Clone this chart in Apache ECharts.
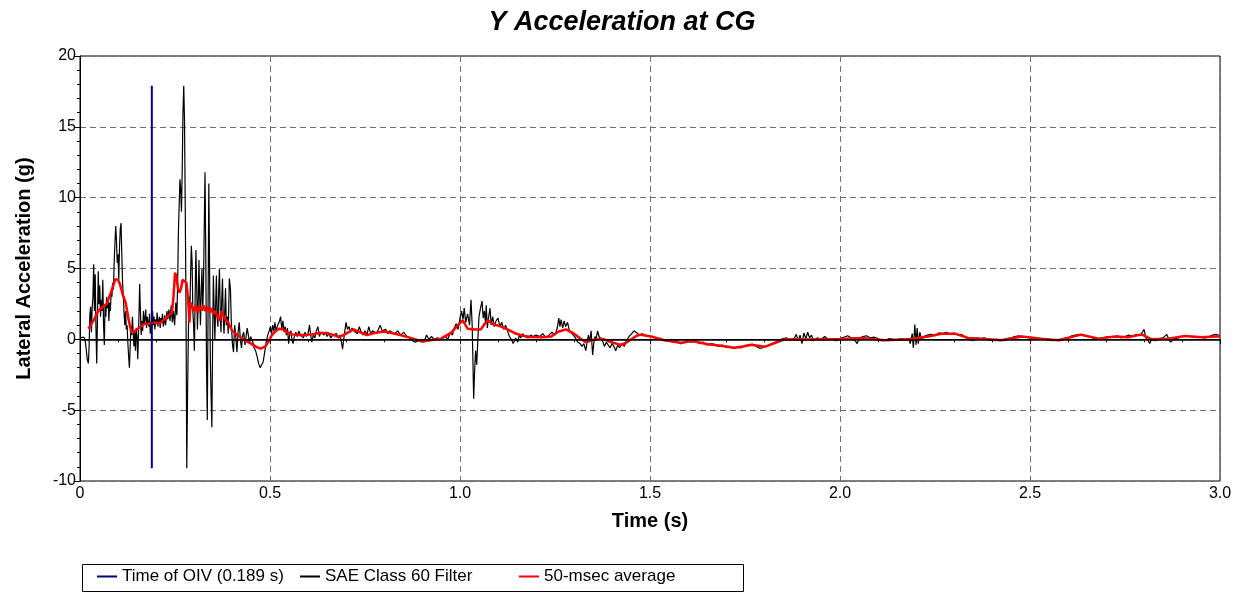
<!DOCTYPE html>
<html>
<head>
<meta charset="utf-8">
<title>Y Acceleration at CG</title>
<script src="https://cdn.jsdelivr.net/npm/echarts@6/dist/echarts.min.js"></script>
<style>
  html, body { margin: 0; padding: 0; background: #fff; }
  #chart { width: 1244px; height: 593px; }
</style>
</head>
<body>
<div id="chart"></div>
<script>
// Time of occupant impact velocity (s)
const oivTime = 0.189;

// SAE Class 60 filtered lateral acceleration, [time (s), g]
const filterImpact = [
  [0.000,0.1],[0.005,0.2],[0.010,0.15],[0.013,0.0],[0.016,-0.6],[0.019,-1.4],[0.022,-1.7],[0.024,-0.5],
  [0.026,1.8],[0.028,2.3],[0.030,0.5],[0.032,2.2],[0.034,3.0],[0.036,5.3],[0.038,2.0],[0.040,4.6],
  [0.042,0.8],[0.044,-1.7],[0.046,1.5],[0.048,4.8],[0.050,2.5],[0.052,3.8],[0.054,1.6],[0.056,2.8],
  [0.058,2.0],[0.060,4.2],[0.062,1.0],[0.064,-0.4],[0.066,2.5],[0.068,1.6],[0.070,3.0],[0.072,2.2],
  [0.074,2.8],[0.076,1.3],[0.078,2.6],[0.080,2.0],[0.082,3.4],[0.084,3.0],[0.086,4.0],[0.088,3.5],
  [0.090,5.5],[0.092,6.8],[0.094,8.0],[0.096,7.0],[0.098,5.4],[0.100,6.0],[0.102,4.2],[0.104,6.5],
  [0.106,7.8],[0.108,8.2],[0.110,6.0],[0.112,4.0],[0.114,3.0],[0.116,1.8],[0.118,1.0],[0.120,2.0],
  [0.122,0.7],[0.124,1.0],[0.126,-0.3],[0.128,-1.2],[0.130,-2.0],[0.132,-0.6],[0.134,0.9],[0.136,0.3],
  [0.138,1.6],[0.140,0.4],[0.142,-0.5],[0.144,0.5],[0.146,-0.8],[0.148,0.8],[0.150,0.2],[0.152,-1.4],
  [0.155,1.5],[0.157,3.9],[0.159,2.0],[0.161,0.3],[0.163,1.3],[0.165,0.6],[0.167,2.0],[0.169,1.0],
  [0.171,1.5],[0.173,2.1],[0.175,0.8],[0.177,1.6],[0.179,1.2],[0.181,0.9],[0.183,1.8],[0.185,0.4],
  [0.187,1.1],[0.189,0.8],[0.191,2.0],[0.193,1.0],[0.195,1.6],[0.197,0.7],[0.199,1.4],[0.201,1.1],
  [0.203,1.9],[0.205,0.9],[0.207,1.3],[0.209,1.6],[0.211,0.8],[0.213,1.5],[0.215,1.2],[0.217,1.8],
  [0.219,0.9],[0.221,1.2],[0.223,1.7],[0.225,1.0],[0.227,1.5],[0.229,2.0],[0.231,1.4],[0.234,2.1],
  [0.237,1.3],[0.240,2.4],[0.243,1.2],[0.246,2.0],[0.249,1.0],[0.252,2.6],[0.255,1.7],[0.257,4.0],
  [0.259,7.6],[0.261,9.5],[0.263,11.3],[0.265,10.6],[0.267,9.0],[0.269,12.0],[0.271,16.0],[0.273,17.9],
  [0.275,15.5],[0.277,9.2],[0.279,2.0],[0.281,-9.1],[0.283,-4.0],[0.285,0.0],[0.287,3.0],[0.289,2.0],
  [0.291,4.5],[0.293,6.6],[0.295,5.5],[0.297,2.0],[0.299,1.0],[0.301,-0.8],[0.303,3.0],[0.305,6.3],
  [0.307,4.0],[0.309,0.7],[0.311,2.5],[0.313,5.6],[0.315,3.0],[0.317,1.0],[0.319,3.5],[0.321,5.0],
  [0.323,2.0],[0.325,4.0],[0.327,8.0],[0.329,11.8],[0.331,6.0],[0.333,-2.0],[0.335,-5.7],[0.337,2.0],
  [0.339,11.0],[0.341,5.0],[0.343,-1.5],[0.345,-4.0],[0.347,-6.2],[0.349,0.0],[0.351,4.5],[0.353,2.0],
  [0.355,0.0],[0.357,2.5],[0.359,4.5],[0.361,1.5],[0.363,0.9],[0.365,3.5],[0.367,5.0],[0.369,2.0],
  [0.371,0.5],[0.373,2.8],[0.375,4.3],[0.377,1.5],[0.379,0.4],[0.381,2.0],[0.383,3.6],[0.385,1.0],
  [0.388,1.6],[0.390,0.4],[0.393,4.3],[0.396,3.5],[0.398,1.4],[0.401,-0.3],[0.404,-0.9],[0.407,1.0],
  [0.410,0.2],[0.413,-0.9],[0.416,0.5],[0.419,1.2],[0.422,0.0],[0.425,-0.6],[0.428,0.3],[0.431,0.5],
  [0.434,-0.4],[0.437,0.2],[0.440,0.8],[0.443,0.3],[0.446,-0.3],[0.449,0.2],[0.452,0.1],[0.455,-0.2],
  [0.458,-0.6],[0.462,-0.8],[0.466,-1.2],[0.470,-1.7],[0.474,-2.0],[0.478,-2.1],[0.482,-1.6],[0.486,-0.9],
  [0.490,-0.2],[0.494,0.3],[0.498,0.6]
];

const filterMid = [
  [0.501,0.9],[0.504,0.4],[0.507,1.0],[0.510,0.6],[0.513,1.2],[0.516,0.5],[0.519,0.9],[0.522,0.8],
  [0.525,1.3],[0.528,1.6],[0.531,0.7],[0.534,1.3],[0.537,0.5],[0.540,0.9],[0.543,0.3],[0.546,0.8],
  [0.549,-0.3],[0.552,0.4],[0.555,0.6],[0.558,-0.1],[0.561,-0.3],[0.564,0.2],[0.568,0.5],[0.572,0.2],
  [0.576,0.6],[0.580,0.3],[0.584,0.4],[0.588,0.1],[0.592,0.5],[0.596,0.2],[0.600,0.4],[0.604,1.0],
  [0.607,0.3],[0.610,-0.2],[0.614,0.3],[0.618,0.1],[0.622,0.6],[0.626,0.9],[0.630,0.2],[0.634,0.5],
  [0.638,0.6],[0.642,0.3],[0.646,0.5],[0.650,0.2],[0.655,0.4],[0.660,0.1],[0.665,0.3],[0.670,0.2],
  [0.675,0.4],[0.680,0.1],[0.684,0.3],[0.688,-0.2],[0.691,-0.7],[0.694,0.0],[0.697,0.6],[0.700,1.2],
  [0.704,0.7],[0.708,0.9],[0.712,0.5],[0.716,0.8],[0.720,0.6],[0.725,0.7],[0.730,0.4],[0.735,0.9],
  [0.740,0.5],[0.745,0.3],[0.750,0.6],[0.755,0.3],[0.760,0.9],[0.765,0.4],[0.770,0.6],[0.775,0.5],
  [0.780,0.4],[0.785,0.7],[0.790,1.0],[0.795,0.6],[0.800,0.5],[0.805,0.7],[0.810,0.4],[0.815,0.6],
  [0.820,0.5],[0.828,0.4],[0.836,0.6],[0.844,0.3],[0.852,0.5],[0.860,0.2],[0.868,0.1],[0.875,-0.1],
  [0.882,-0.2],[0.890,-0.1],[0.898,0.0],[0.905,-0.2],[0.912,0.3],[0.918,0.0],[0.925,0.2],[0.932,0.0],
  [0.940,0.1],[0.948,0.0],[0.955,0.1],[0.962,0.2],[0.968,0.0],[0.975,0.5],[0.980,0.3],[0.985,0.8],
  [0.990,1.1],[0.995,0.7],[1.000,1.5],[1.004,2.0],[1.008,1.4],[1.011,2.2],[1.015,1.2],[1.020,1.8],
  [1.025,1.0],[1.029,2.8],[1.032,1.0],[1.034,-1.5],[1.036,-4.2],[1.038,-2.5],[1.041,-0.8],[1.044,-1.8],
  [1.047,0.0],[1.050,1.6],[1.054,2.2],[1.058,2.7],[1.061,1.5],[1.064,2.0],[1.067,1.2],[1.069,2.4],
  [1.072,0.8],[1.075,1.5],[1.079,2.2],[1.082,1.0],[1.086,1.6],[1.090,0.9],[1.095,1.3],[1.100,1.5],
  [1.105,0.9],[1.110,1.2],[1.115,0.7],[1.120,1.0],[1.125,0.6],[1.130,0.2],[1.135,0.0],[1.140,-0.3],
  [1.143,-0.4],[1.147,0.1],[1.152,-0.2],[1.156,0.3],[1.160,0.1],[1.165,0.4],[1.170,0.2],[1.175,0.3],
  [1.180,0.1],[1.186,0.3],[1.192,0.2],[1.200,0.3],[1.210,0.2],[1.218,0.4],[1.226,0.1],[1.234,0.3],
  [1.242,0.5],[1.250,0.3],[1.256,0.8],[1.260,1.5],[1.263,0.9],[1.266,1.4],[1.270,0.8],[1.274,1.3],
  [1.278,0.9],[1.283,1.2],[1.288,0.6],[1.293,0.5],[1.298,0.3],[1.304,0.1],[1.310,-0.2],[1.316,-0.3],
  [1.321,-0.5],[1.326,-0.3],[1.331,-0.8],[1.335,-0.1],[1.338,0.3],[1.341,-0.2],[1.345,0.6],[1.349,-1.1],
  [1.352,-0.3],[1.355,0.2],[1.358,0.0],[1.362,0.6],[1.366,0.2],[1.370,0.3],[1.375,-0.1],[1.380,-0.5],
  [1.385,-0.2],[1.390,-0.4],[1.395,-0.6],[1.400,-0.3],[1.405,-0.5],[1.410,-0.8],[1.415,-0.4],[1.420,-0.6],
  [1.426,-0.3],[1.432,-0.5],[1.438,-0.1],[1.445,0.2],[1.452,0.4],[1.458,0.6],[1.463,0.6],[1.468,0.4],
  [1.474,0.3],[1.480,0.4],[1.487,0.3],[1.495,0.2]
];

const filterTail = [
  [1.502,0.2],[1.51,0.15],[1.52,0.05],[1.53,-0.05],[1.54,-0.1],[1.55,-0.05],[1.56,-0.2],[1.57,-0.1],
  [1.58,-0.3],[1.59,-0.2],[1.60,-0.1],[1.61,-0.2],[1.62,-0.1],[1.63,-0.3],[1.64,-0.2],[1.65,-0.4],
  [1.66,-0.3],[1.67,-0.35],[1.68,-0.5],[1.69,-0.4],[1.70,-0.55],[1.71,-0.5],[1.72,-0.65],[1.73,-0.55],
  [1.74,-0.6],[1.75,-0.45],[1.76,-0.4],[1.77,-0.35],[1.78,-0.5],[1.79,-0.65],[1.80,-0.55],[1.81,-0.45],
  [1.82,-0.3],[1.83,-0.2],[1.84,-0.05],[1.85,0.05],[1.86,0.1],[1.87,-0.05],[1.88,0.1],[1.885,0.35],
  [1.89,-0.1],[1.895,0.3],[1.90,-0.3],[1.905,0.45],[1.91,0.05],[1.915,0.5],[1.92,0.1],[1.925,0.3],
  [1.93,-0.1],[1.94,0.1],[1.95,0.0],[1.96,0.2],[1.97,-0.05],[1.98,0.05],[1.99,-0.1],[2.00,0.05],
  [2.01,0.15],[2.02,0.25],[2.03,0.1],[2.04,-0.1],[2.045,-0.3],[2.05,0.0],[2.06,0.2],[2.07,0.25],
  [2.08,0.1],[2.09,0.15],[2.10,0.05],[2.11,-0.1],[2.12,-0.05],[2.13,0.05],[2.14,0.0],[2.15,-0.05],
  [2.16,0.05],[2.17,0.0],[2.18,0.05],[2.185,-0.3],[2.19,0.4],[2.193,-0.6],[2.197,1.05],[2.20,-0.4],
  [2.203,0.8],[2.206,-0.3],[2.21,0.5],[2.215,0.0],[2.22,0.2],[2.23,0.3],[2.24,0.35],[2.25,0.25],
  [2.26,0.45],[2.27,0.4],[2.28,0.5],[2.29,0.35],[2.30,0.45],[2.31,0.3],[2.32,0.35],[2.33,0.15],
  [2.34,0.0],[2.35,-0.1],[2.36,0.1],[2.37,0.05],[2.38,0.1],[2.39,0.0],[2.40,-0.05],[2.41,0.0],
  [2.42,-0.1],[2.43,-0.05],[2.44,0.05],[2.45,0.1],[2.46,0.2],[2.47,0.25],[2.48,0.2],[2.49,0.15],
  [2.50,0.1],[2.51,0.05],[2.52,0.0],[2.53,0.05],[2.54,0.0],[2.55,-0.05],[2.56,-0.1],[2.57,-0.05],
  [2.58,-0.1],[2.59,0.0],[2.60,0.1],[2.61,0.25],[2.62,0.3],[2.63,0.35],[2.64,0.3],[2.65,0.2],
  [2.66,0.15],[2.67,0.05],[2.68,0.0],[2.69,0.1],[2.70,0.15],[2.71,0.2],[2.72,0.15],[2.73,0.25],
  [2.74,0.1],[2.75,0.2],[2.76,0.3],[2.77,0.2],[2.78,0.35],[2.79,0.25],[2.80,0.7],[2.805,0.1],
  [2.81,-0.05],[2.815,-0.3],[2.82,0.0],[2.83,-0.1],[2.84,0.05],[2.85,0.1],[2.86,0.35],[2.865,0.0],
  [2.87,-0.2],[2.88,0.05],[2.89,0.1],[2.90,0.2],[2.91,0.25],[2.92,0.2],[2.93,0.15],[2.94,0.2],
  [2.95,0.15],[2.96,0.1],[2.97,0.15],[2.98,0.3],[2.99,0.35],[3.00,0.25]
];

// 50-msec moving average, [time (s), g]
const movingAverage = [
  [0.022,0.75],[0.035,1.3],[0.048,2.0],[0.060,2.3],[0.070,2.5],[0.080,3.2],[0.093,4.25],[0.100,4.2],
  [0.105,3.9],[0.112,3.2],[0.120,2.6],[0.128,1.4],[0.135,0.5],[0.142,0.55],[0.150,0.7],[0.160,0.9],
  [0.170,1.1],[0.181,1.1],[0.195,1.2],[0.208,1.1],[0.222,1.4],[0.234,1.7],[0.242,1.9],[0.246,3.0],
  [0.250,4.7],[0.253,4.5],[0.258,3.6],[0.262,3.3],[0.266,3.6],[0.270,4.2],[0.275,4.1],[0.280,4.0],
  [0.284,3.0],[0.288,1.2],[0.291,2.6],[0.295,2.3],[0.300,2.0],[0.305,2.4],[0.310,1.9],[0.315,2.3],
  [0.320,2.1],[0.325,2.4],[0.330,2.0],[0.335,2.3],[0.340,1.9],[0.345,2.2],[0.350,1.8],[0.355,2.0],
  [0.360,1.7],[0.368,1.3],[0.372,2.0],[0.380,1.5],[0.390,1.2],[0.400,0.6],
  [0.410,0.4],[0.420,0.2],[0.435,-0.1],[0.450,-0.3],[0.465,-0.55],[0.475,-0.65],[0.488,-0.5],[0.497,-0.1],
  [0.505,0.3],[0.515,0.6],[0.525,0.75],[0.535,0.7],[0.545,0.5],[0.558,0.35],[0.571,0.3],[0.590,0.3],
  [0.610,0.35],[0.630,0.45],[0.650,0.45],[0.668,0.3],[0.682,0.15],[0.700,0.4],[0.720,0.7],[0.738,0.5],
  [0.755,0.3],[0.775,0.45],[0.800,0.55],[0.820,0.45],[0.843,0.3],[0.870,0.1],[0.900,-0.15],[0.925,-0.05],
  [0.950,0.05],[0.976,0.45],[0.995,1.0],[1.007,1.34],[1.020,0.75],[1.040,0.7],[1.055,0.7],[1.065,1.1],
  [1.073,1.34],[1.085,1.1],[1.108,0.9],[1.125,0.7],[1.143,0.45],[1.165,0.25],[1.187,0.16],[1.215,0.15],
  [1.240,0.2],[1.260,0.55],[1.279,0.7],[1.300,0.4],[1.315,0.1],[1.331,-0.2],[1.350,-0.05],[1.371,0.05],
  [1.385,-0.05],[1.397,-0.2],[1.424,-0.4],[1.440,-0.2],[1.450,0.0],[1.465,0.25],[1.476,0.33],[1.503,0.2],
  [1.538,-0.07],[1.560,-0.15],[1.582,-0.26],[1.600,-0.15],[1.617,-0.15],[1.652,-0.35],[1.687,-0.45],[1.722,-0.6],
  [1.745,-0.5],[1.766,-0.38],[1.785,-0.45],[1.801,-0.53],[1.825,-0.3],[1.854,0.0],[1.898,-0.02],[1.942,0.0],
  [2.003,0.03],[2.056,0.1],[2.118,-0.07],[2.179,0.0],[2.205,0.1],[2.232,0.2],[2.267,0.4],[2.302,0.4],
  [2.337,0.1],[2.381,0.03],[2.425,-0.07],[2.478,0.2],[2.530,0.05],[2.574,-0.07],[2.635,0.33],[2.680,0.05],
  [2.724,0.2],[2.758,0.15],[2.794,0.35],[2.820,0.0],[2.864,0.05],[2.908,0.23],[2.952,0.15],[2.987,0.2],
  [3.000,0.2]
];

// Axis ranges and tick spacing
const timeAxis = { min: 0, max: 3, interval: 0.5 };
const accelAxis = { min: -10, max: 20, interval: 5 };

const filtered = filterImpact.concat(filterMid, filterTail);
const peakHigh = Math.max(...filtered.map(p => p[1]));
const peakLow = Math.min(...filtered.map(p => p[1]));
const oivMarker = [[oivTime, peakLow], [oivTime, peakHigh]];

const font = 'Liberation Sans, Arial, Helvetica, sans-serif';
const chart = echarts.init(document.getElementById('chart'), null, { renderer: 'canvas' });

const legendBase = {
  top: 568, itemWidth: 20, itemHeight: 2, icon: 'rect', itemGap: 0,
  textStyle: { fontFamily: font, fontSize: 17, color: '#000' }, padding: 0
};

chart.setOption({
  animation: false,
  backgroundColor: '#fff',
  title: {
    text: 'Y Acceleration at CG',
    left: 'center', top: 4,
    textStyle: { fontFamily: font, fontSize: 27, fontWeight: 'bold', fontStyle: 'italic', color: '#000' }
  },
  grid: { left: 80, right: 24, top: 56, bottom: 112, show: true, borderColor: '#000', borderWidth: 1, backgroundColor: 'transparent' },
  legend: [
    Object.assign({}, legendBase, { left: 97, data: ['Time of OIV (0.189 s)'] }),
    Object.assign({}, legendBase, { left: 300, data: ['SAE Class 60 Filter'] }),
    Object.assign({}, legendBase, { left: 519, data: ['50-msec average'] })
  ],
  graphic: [{
    type: 'rect', left: 80, top: 562,
    shape: { width: 661, height: 27 },
    style: { fill: 'none', stroke: '#000', lineWidth: 1 }
  }],
  xAxis: {
    type: 'value', min: timeAxis.min, max: timeAxis.max, interval: timeAxis.interval,
    name: 'Time (s)', nameLocation: 'middle', nameGap: 30,
    nameTextStyle: { fontFamily: font, fontSize: 20, fontWeight: 'bold', color: '#000' },
    axisLine: { lineStyle: { color: '#000', width: 1 } },
    axisTick: { show: true, inside: false, length: 5, lineStyle: { color: '#000' } },
    minorTick: { show: true, splitNumber: 5, length: 3, lineStyle: { color: '#000' } },
    axisLabel: { fontFamily: font, fontSize: 16, color: '#000', margin: 5,
      formatter: v => (v === 0 ? '0' : v.toFixed(1)) },
    splitLine: { show: true, lineStyle: { color: '#707070', type: [6, 4], width: 1 } }
  },
  yAxis: {
    type: 'value', min: accelAxis.min, max: accelAxis.max, interval: accelAxis.interval,
    name: 'Lateral Acceleration (g)', nameLocation: 'middle', nameGap: 46, nameRotate: 90,
    nameTextStyle: { fontFamily: font, fontSize: 20, fontWeight: 'bold', color: '#000' },
    axisLine: { show: true, lineStyle: { color: '#000', width: 1 } },
    axisTick: { show: true, inside: false, length: 5, lineStyle: { color: '#000' } },
    minorTick: { show: true, splitNumber: 5, length: 3, lineStyle: { color: '#000' } },
    axisLabel: { fontFamily: font, fontSize: 16, color: '#000', margin: 4 },
    splitLine: { show: true, lineStyle: { color: '#707070', type: [6, 4], width: 1 } }
  },
  series: [
    {
      name: 'SAE Class 60 Filter', type: 'line', data: filtered,
      symbol: 'none', lineStyle: { color: '#000', width: 1.2 }, itemStyle: { color: '#000' },
      markLine: {
        silent: true, symbol: 'none', label: { show: false },
        lineStyle: { color: '#000', width: 1.6, type: 'solid' },
        data: [{ yAxis: 0 }]
      },
      z: 2
    },
    {
      name: '50-msec average', type: 'line', data: movingAverage,
      symbol: 'none', lineStyle: { color: '#ff0000', width: 2.5 }, itemStyle: { color: '#ff0000' },
      z: 3
    },
    {
      name: 'Time of OIV (0.189 s)', type: 'line', data: oivMarker,
      symbol: 'none', lineStyle: { color: '#000080', width: 2 }, itemStyle: { color: '#000080' },
      z: 4
    }
  ]
});
</script>
</body>
</html>
